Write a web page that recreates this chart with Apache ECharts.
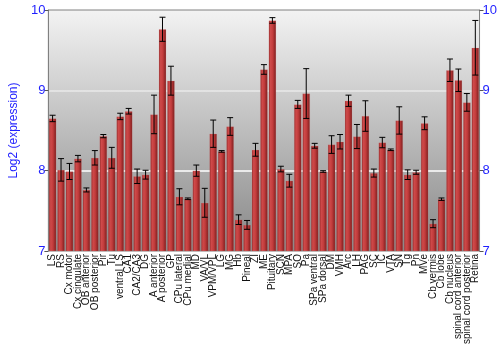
<!DOCTYPE html>
<html>
<head>
<meta charset="utf-8">
<script src="https://cdn.jsdelivr.net/npm/echarts@6/dist/echarts.min.js"></script>
<style>
html,body{margin:0;padding:0;background:#fff;}
#c{width:500px;height:350px;}
</style>
</head>
<body>
<div id="c"></div>
<script>
var categories = ["LS","RS","Cx motor","Cx cingulate","OB anterior","OB posterior","Pir","Tu","ventral LS","CA1","CA2/CA3","DG","A anterior","A posterior","GP","CPu lateral","CPu medial","MD","VA/VL","VPM/VPL","LG","MG","Hb","Pineal","ZI","ME","Pituitary","SCN","MPA","SO","Pa","SPa ventral","SPa dorsal","DM","VMH","Arc","LH","PAG","SC","IC","VTA","SN","Tg","Pn","MVe","Cb vermis","Cb lobe","Cb nucleus","spinal cord anterior","spinal cord posterior","Retina"];
var values = [8.65,8.01,7.99,8.15,7.76,8.16,8.43,8.16,8.675,8.74,7.93,7.95,8.70,9.76,9.12,7.675,7.65,8.0,7.60,8.46,8.24,8.55,7.39,7.325,8.26,9.26,9.87,8.02,7.875,8.825,8.96,8.31,7.99,8.325,8.36,8.87,8.425,8.68,7.97,8.35,8.26,8.625,7.95,7.98,8.59,7.34,7.645,9.25,9.125,8.85,9.53];
var errors = [0.04,0.14,0.10,0.04,0.025,0.09,0.02,0.13,0.04,0.035,0.09,0.055,0.24,0.15,0.18,0.10,0.01,0.07,0.18,0.17,0.01,0.11,0.06,0.055,0.08,0.06,0.035,0.035,0.08,0.05,0.31,0.03,0.01,0.11,0.09,0.07,0.15,0.19,0.05,0.065,0.01,0.17,0.06,0.025,0.08,0.05,0.015,0.14,0.14,0.11,0.34];
var yTicks = [7,8,9,10];

var chart = echarts.init(document.getElementById('c'), null, {renderer:'canvas'});
var errData = values.map(function(v,i){ return [i, v - errors[i], v + errors[i]]; });
var blue = '#1f1fff';
var font = 'Liberation Sans, Arial, sans-serif';

var yAxisCommon = {
  type:'value', min:yTicks[0], max:yTicks[yTicks.length-1], interval:1,
  axisLine:{show:true, lineStyle:{color:'#808080', width:1}},
  axisTick:{show:true, length:4, lineStyle:{color:'#555'}},
  axisLabel:{color:blue, fontSize:13, fontFamily:font, margin:3},
  splitLine:{show:true, lineStyle:{color:['rgba(0,0,0,0)','#ffffff','rgba(255,255,255,0.55)','rgba(0,0,0,0)'], width:1.5}}
};

chart.setOption({
  animation:false,
  grid:{left:35, right:19, top:10, bottom:99, show:true, borderColor:'#808080', borderWidth:1,
    backgroundColor:new echarts.graphic.LinearGradient(0,0,0,1,[{offset:0,color:'#f3f3f3'},{offset:1,color:'#878787'}])},
  xAxis:{type:'category', data:categories,
    axisLine:{show:false}, axisTick:{show:false},
    axisLabel:{interval:0, rotate:90, fontSize:10, fontFamily:font, color:'#111', margin:3}},
  yAxis:[
    Object.assign({}, yAxisCommon, {position:'left', name:'Log2 (expression)', nameLocation:'middle', nameGap:21,
      nameTextStyle:{color:blue, fontSize:12, fontFamily:font}}),
    Object.assign({}, yAxisCommon, {position:'right', splitLine:{show:false}})
  ],
  series:[
    {type:'bar', data:values, barCategoryGap:'12%',
      itemStyle:{color:new echarts.graphic.LinearGradient(0,0,1,0,[
        {offset:0,color:'#8e2424'},{offset:0.25,color:'#cf4a4a'},{offset:0.55,color:'#c23c3c'},{offset:1,color:'#7a1c1c'}]),
        borderColor:'rgba(230,140,140,0.35)', borderWidth:0.5}},
    {type:'custom', data:errData, z:10,
      renderItem:function(params, api){
        var x = api.value(0);
        var lo = api.coord([x, api.value(1)]);
        var hi = api.coord([x, api.value(2)]);
        var w = 3;
        var st = {stroke:'#000', lineWidth:1};
        return {type:'group', children:[
          {type:'line', shape:{x1:lo[0], y1:lo[1], x2:hi[0], y2:hi[1]}, style:st},
          {type:'line', shape:{x1:lo[0]-w, y1:lo[1], x2:lo[0]+w, y2:lo[1]}, style:st},
          {type:'line', shape:{x1:hi[0]-w, y1:hi[1], x2:hi[0]+w, y2:hi[1]}, style:st}
        ]};
      }}
  ]
});
</script>
</body>
</html>
